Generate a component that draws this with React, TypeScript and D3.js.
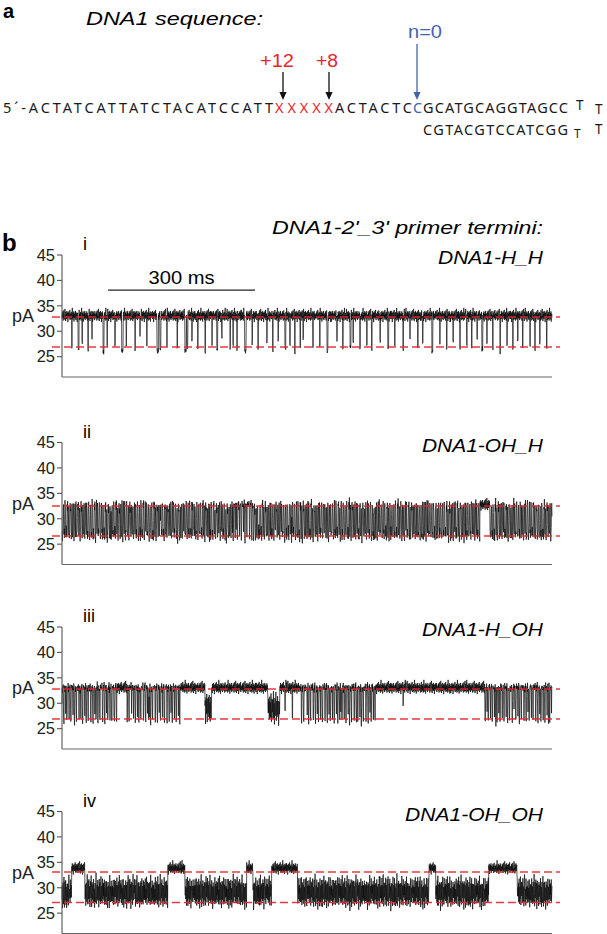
import React from "react";
import * as d3 from "d3";

// ---------------- data ----------------
const TOTAL_MS = 1000;
const STEP_MS = 0.5;

const PANEL_IDS = ["i", "ii", "iii", "iv"];
const PANEL_NAMES = ["DNA1-H_H", "DNA1-OH_H", "DNA1-H_OH", "DNA1-OH_OH"];
const Y_TICKS = [25, 30, 35, 40, 45];
const OPEN_LEVEL = [33.0, 32.7, 33.0, 33.8];
const REF_HIGH = [32.8, 32.5, 32.8, 33.1];
const REF_LOW = [26.9, 26.6, 26.9, 27.1];

const SEQ1_BLACK_A = "5´-ACTATCATTATCTACATCCATT";
const SEQ1_RED = "XXXXX";
const SEQ1_BLACK_B = "ACTACTC";
const SEQ1_BLUE = "C";
const SEQ1_BLACK_C = "GCATGCAGGTAGCC";
const SEQ2 = "CGTACGTCCATCGG";
const LOOP = "T";
const MARK_LABELS = ["+12", "+8", "n=0"];

const SCALE_BAR_MS = [94, 394];
const SCALE_BAR_LABEL = "300 ms";

// state segments [startMs, endMs, state]  O=open, F=fast flicker, B=blocked band, D=open with dense dips
type Seg = [number, number, string];
const SEGMENTS_I: Seg[] = [[0, 1000, "O"]];
const SEGMENTS_II: Seg[] = [[0, 349, "F"], [349, 390, "D"], [390, 853, "F"], [853, 873, "O"], [873, 1000, "F"]];
const SEGMENTS_III: Seg[] = [[0, 112, "D"], [112, 133, "O"], [133, 241, "D"], [241, 292, "O"], [292, 306, "B"], [306, 420, "O"], [420, 445, "B"], [445, 486, "O"], [486, 640, "D"], [640, 863, "O"], [863, 1000, "D"]];
const SEGMENTS_IV: Seg[] = [[0, 20, "B"], [20, 47, "O"], [47, 216, "B"], [216, 251, "O"], [251, 377, "B"], [377, 390, "O"], [390, 428, "B"], [428, 481, "O"], [481, 749, "B"], [749, 763, "O"], [763, 871, "B"], [871, 929, "O"], [929, 1000, "B"]];

// individual blockade spikes [timeMs, minimum pA, widthMs]
type Dip = [number, number, number];
const DIPS_I: Dip[] = [[20,27.0,1],[33,26.5,2],[41,27.8,1],[53,26.2,1],[61,28.5,1],[84,25.8,2],[92,27.2,1],[108,26.9,1],[122,26.1,3],[131,27.5,1],[149,26.6,1],[159,28.9,1],[173,27.1,1],[194,26.0,3],[200,26.4,2],[214,27.3,1],[235,26.8,1],[251,26.2,3],[255,27.0,2],[265,28.2,1],[277,26.7,1],[292,25.8,1],[306,27.6,1],[316,26.5,2],[326,28.8,1],[343,26.9,1],[349,27.4,1],[357,26.3,1],[373,26.1,3],[388,27.7,1],[400,26.6,1],[418,27.9,1],[430,26.4,1],[441,28.3,1],[455,26.8,2],[465,27.2,1],[475,25.9,1],[486,27.0,1],[492,28.6,1],[512,26.7,1],[526,27.3,1],[541,26.0,2],[561,27.8,1],[573,26.5,1],[588,26.9,2],[594,28.1,1],[608,26.4,1],[622,27.5,1],[632,26.2,1],[649,27.9,1],[665,26.8,2],[679,27.1,1],[696,26.3,1],[710,28.4,1],[726,26.9,1],[736,27.4,1],[755,26.1,2],[771,27.6,1],[785,26.7,1],[798,28.0,1],[812,26.5,1],[826,27.2,1],[836,26.9,1],[847,28.3,1],[857,26.4,2],[867,27.7,1],[879,26.8,1],[894,25.9,1],[908,27.3,1],[920,26.6,1],[930,28.5,1],[940,26.9,1],[955,27.2,1],[965,26.3,1],[975,27.8,1],[989,26.7,1]];
const DIPS_II: Dip[] = [];
const DIPS_III: Dip[] = [[455,28.5,1],[470,27.2,1],[696,29.8,1]];
const DIPS_IV: Dip[] = [];

// hand-read noise textures (pA)
const OPEN_NOISE = [0.3,-0.5,0.9,-0.2,0.6,-0.9,0.2,1.1,-0.4,0.0,-0.7,0.5,1.4,-0.3,0.1,-1.0,0.8,-0.1,0.4,-0.6,1.0,-0.4,0.2,0.7,-1.2,0.3,0.6,-0.2,0.9,-0.5,0.1,-0.3,1.2,-0.8,0.4,-0.1,0.5,-0.6,0.8,0.0,-0.9,0.3,1.6,-0.4,0.2,-0.7,0.6,-0.2,0.9,-1.1,0.1,0.4,-0.3,0.7,-0.5,1.0,-0.1,-0.8,0.5,0.2,-0.4];
const FLICKER = [32.4,33.0,31.8,27.2,26.3,27.8,26.9,30.5,32.6,33.1,32.2,28.0,26.6,25.9,27.4,29.8,32.0,32.9,28.4,26.8,27.5,26.2,31.2,33.2,32.5,31.6,27.0,26.4,28.2,27.1,26.0,29.5,32.8,31.9,33.4,27.6,26.5,27.9,30.8,32.3,26.9,25.6,27.3,28.6,32.7,33.0,31.4,32.1,27.7,26.1,26.8,29.0,32.5,28.3,26.6,27.2,31.0,32.9,32.2,26.7,25.8,27.5,28.8,32.4,33.3,30.2,27.0];
const BLOCK = [28.4,30.6,27.2,29.8,31.5,26.8,28.9,30.1,27.6,32.0,28.2,26.4,29.5,31.0,27.9,28.7,30.8,26.9,29.2,31.8,27.4,28.0,30.3,26.2,29.0,31.2,28.5,27.1,30.0,32.4,28.1,26.6,29.7,30.9,27.8,28.6,31.4,27.0,29.3,30.4,25.8,28.3,31.1,29.6,27.5,30.7,28.8,26.5,29.9,32.2,28.0,27.3,30.2,29.1,26.7,31.6,28.6,27.7,30.5];
const DENSE = [33.2,32.6,33.8,32.9,27.5,26.4,30.1,33.0,32.4,33.5,32.8,33.9,29.0,26.8,26.2,31.5,32.7,33.3,32.5,33.6,32.9,28.1,32.8,33.1,32.3,27.0,26.5,27.8,32.6,33.4,32.9,33.7,32.2,33.0,30.4,26.9,32.5,33.2,32.8,33.5,32.1,28.6,26.3,27.2,32.4,33.6,32.9,33.1,32.7,33.4,31.0,27.4,33.0,32.5,33.8,32.6,26.7,25.8,29.3,32.9,33.3,32.4,33.0,32.7,27.9,26.6,32.1,33.5,32.8,33.2,32.6];

const SEGMENTS = [SEGMENTS_I, SEGMENTS_II, SEGMENTS_III, SEGMENTS_IV];
const DIPS = [DIPS_I, DIPS_II, DIPS_III, DIPS_IV];

// texture lookup that shifts each pass so the pattern does not repeat visibly
function pick(arr: number[], i: number, shift: number): number {
  const len = arr.length;
  return arr[(i + Math.floor(i / len) * 23 + shift) % len];
}

// ---------------- trace assembly ----------------
function buildTrace(segs: Seg[], dips: Dip[], level: number, k: number): [number, number][] {
  const n = Math.round(TOTAL_MS / STEP_MS);
  const pts: [number, number][] = [];
  for (let i = 0; i <= n; i++) {
    const t = Math.min(i * STEP_MS, TOTAL_MS);
    const seg = segs.find((s) => t >= s[0] && t < s[1]) || segs[segs.length - 1];
    const n1 = pick(OPEN_NOISE, i, k * 13);
    const n2 = OPEN_NOISE[(i * 7 + k * 5) % OPEN_NOISE.length];
    let v: number;
    switch (seg[2]) {
      case "O": v = level + n1; break;
      case "F": v = pick(FLICKER, i, k * 11) + 0.5 * n2; break;
      case "B": v = pick(BLOCK, i, k * 7) + 0.4 * n2; break;
      default: v = pick(DENSE, i, k * 3) + (level - 33) + 0.3 * n2;
    }
    for (const d of dips) {
      if (t >= d[0] && t < d[0] + d[2]) v = d[1] + 0.4 * n1;
    }
    pts.push([t, v]);
  }
  return pts;
}

// ---------------- layout ----------------
const W = 607;
const H = 934;
const PLOT_X0 = 62;
const PLOT_X1 = 552;
const REF_X0 = 52;
const REF_X1 = 560;
const PANEL_TOPS = [255, 442.5, 627, 811.5];
const PANEL_H = 122;
const FONT = "'Liberation Sans', Arial, Helvetica, sans-serif";
const SEQ_FONT = "'Noto Sans', 'Open Sans', sans-serif";
const RED = "#e3272d";
const BLUE = "#4663aa";
const NAME_WIDTHS = [105, 121, 121, 138];

function Arrow({ x, y0, y1, color }: { x: number; y0: number; y1: number; color: string }) {
  return (
    <g>
      <line x1={x} x2={x} y1={y0} y2={y1 - 7} stroke={color} strokeWidth={1.3} />
      <path d={`M${x - 3.6},${y1 - 8} L${x + 3.6},${y1 - 8} L${x},${y1} Z`} fill={color} />
    </g>
  );
}

export default function App() {
  const x = d3.scaleLinear().domain([0, TOTAL_MS]).range([PLOT_X0, PLOT_X1]);

  const panels = PANEL_IDS.map((id, k) => {
    const top = PANEL_TOPS[k];
    const y = d3.scaleLinear().domain([21, 45]).range([top + PANEL_H, top]);
    const data = buildTrace(SEGMENTS[k], DIPS[k], OPEN_LEVEL[k], k);
    const line = d3
      .line<[number, number]>()
      .x((d) => x(d[0]))
      .y((d) => y(d[1]));
    return { id, k, top, y, path: line(data) || "" };
  });

  return (
    <svg
      width={W}
      height={H}
      viewBox={`0 0 ${W} ${H}`}
      style={{ position: "absolute", left: 0, top: 0, background: "#fff" }}
      fontFamily={FONT}
    >
      <rect x={0} y={0} width={W} height={H} fill="#fff" />
      {/* ---------- panel a ---------- */}
      <text x={3} y={18} fontSize={20} fontWeight="bold">a</text>
      <text x={86} y={25} fontSize={19} fontStyle="italic" textLength={177} lengthAdjust="spacingAndGlyphs">
        DNA1 sequence:
      </text>

      <g fontFamily={SEQ_FONT} fontSize={14.5} fill="#1a1a1a">
        <text x={3} y={113} textLength={270} lengthAdjust="spacing">{SEQ1_BLACK_A}</text>
        <text x={275} y={113} textLength={58} lengthAdjust="spacing" fill={RED}>{SEQ1_RED}</text>
        <text x={335} y={113} textLength={77} lengthAdjust="spacing">{SEQ1_BLACK_B}</text>
        <text x={413} y={113} fill={BLUE}>{SEQ1_BLUE}</text>
        <text x={423} y={113} textLength={145} lengthAdjust="spacing">{SEQ1_BLACK_C}</text>
        <text x={576} y={110} fontSize={13.5}>{LOOP}</text>
        <text x={595} y={114} fontSize={13.5}>{LOOP}</text>
        <text x={423} y={135} textLength={145} lengthAdjust="spacing">{SEQ2}</text>
        <text x={574} y={137.5} fontSize={12}>{LOOP}</text>
        <text x={595} y={134} fontSize={13.5}>{LOOP}</text>
      </g>

      <text x={277} y={67} fontSize={18} fill={RED} textAnchor="middle" textLength={34} lengthAdjust="spacingAndGlyphs">{MARK_LABELS[0]}</text>
      <text x={327} y={67} fontSize={18} fill={RED} textAnchor="middle" textLength={22} lengthAdjust="spacingAndGlyphs">{MARK_LABELS[1]}</text>
      <text x={425} y={38} fontSize={18} fill={BLUE} textAnchor="middle" textLength={34} lengthAdjust="spacingAndGlyphs">{MARK_LABELS[2]}</text>
      <Arrow x={283} y0={72} y1={100} color="#111" />
      <Arrow x={329} y0={72} y1={100} color="#111" />
      <Arrow x={417} y0={44} y1={100} color={BLUE} />

      {/* ---------- panel b ---------- */}
      <text x={2} y={251} fontSize={24} fontWeight="bold">b</text>
      <text x={543} y={234} fontSize={19} fontStyle="italic" textAnchor="end" textLength={271} lengthAdjust="spacingAndGlyphs">
        DNA1-2'_3' primer termini:
      </text>

      {panels.map((p) => (
        <g key={p.id}>
          <text x={83} y={p.top - 5} fontSize={18}>{p.id}</text>
          <text x={543} y={p.top + 9} fontSize={19} fontStyle="italic" textAnchor="end" textLength={NAME_WIDTHS[p.k]} lengthAdjust="spacingAndGlyphs">
            {PANEL_NAMES[p.k]}
          </text>

          {/* trace */}
          <path d={p.path} fill="none" stroke="#0c0c0c" strokeWidth={0.7} strokeLinejoin="round" />

          {/* reference levels */}
          {[REF_HIGH[p.k], REF_LOW[p.k]].map((v, j) => (
            <line key={j} x1={REF_X0} x2={REF_X1} y1={p.y(v)} y2={p.y(v)} stroke={RED} strokeWidth={1.6} strokeDasharray="8,4" opacity={0.9} />
          ))}

          {/* axes */}
          <line x1={PLOT_X0} x2={PLOT_X0} y1={p.y(45)} y2={p.y(21)} stroke="#555" strokeWidth={1.1} />
          <line x1={PLOT_X0} x2={PLOT_X1} y1={p.y(21)} y2={p.y(21)} stroke="#666" strokeWidth={1.2} />
          {Y_TICKS.map((t) => (
            <g key={t}>
              <line x1={PLOT_X0 - 5} x2={PLOT_X0} y1={p.y(t)} y2={p.y(t)} stroke="#555" strokeWidth={1.1} />
              <text x={55} y={p.y(t)} dy="0.35em" fontSize={16.5} textAnchor="end" fill="#222">{t}</text>
            </g>
          ))}
          <text x={12} y={p.y(33) + 6} fontSize={18} fill="#222">pA</text>

          {p.k === 0 && (
            <g>
              <line x1={x(SCALE_BAR_MS[0])} x2={x(SCALE_BAR_MS[1])} y1={p.y(38.1)} y2={p.y(38.1)} stroke="#222" strokeWidth={1.3} />
              <text x={(x(SCALE_BAR_MS[0]) + x(SCALE_BAR_MS[1])) / 2} y={p.y(38.1) - 6} fontSize={18} textAnchor="middle" textLength={66} lengthAdjust="spacingAndGlyphs">
                {SCALE_BAR_LABEL}
              </text>
            </g>
          )}
        </g>
      ))}
    </svg>
  );
}
